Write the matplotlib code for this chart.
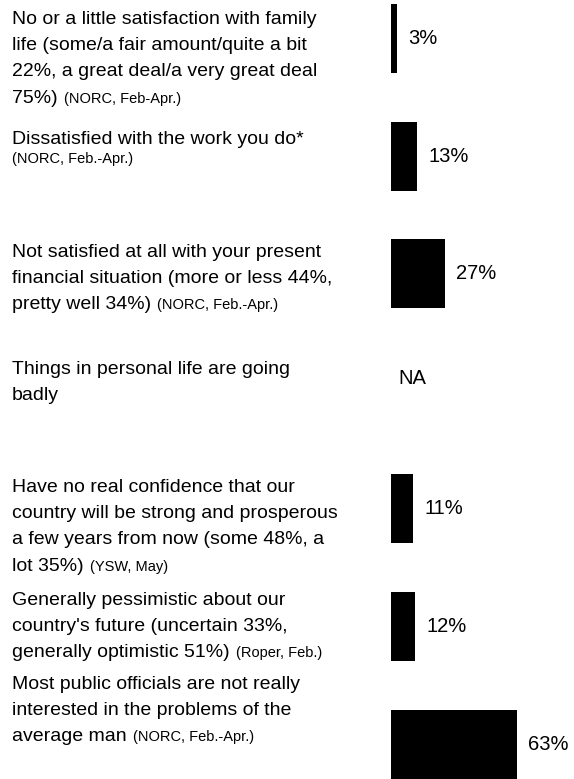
import matplotlib
matplotlib.use("Agg")
import matplotlib.pyplot as plt
import numpy as np

plt.rcParams['font.family'] = ['Liberation Sans', 'DejaVu Sans']

# ---------------------------
# Data
# ---------------------------
questions = [
    ["No or a little satisfaction with family",
     "life (some/a fair amount/quite a bit",
     "22%, a great deal/a very great deal",
     "75%)"],
    ["Dissatisfied with the work you do*",
     ""],
    ["Not satisfied at all with your present",
     "financial situation (more or less 44%,",
     "pretty well 34%)"],
    ["Things in personal life are going",
     "badly"],
    ["Have no real confidence that our",
     "country will be strong and prosperous",
     "a few years from now (some 48%, a",
     "lot 35%)"],
    ["Generally pessimistic about our",
     "country's future (uncertain 33%,",
     "generally optimistic 51%)"],
    ["Most public officials are not really",
     "interested in the problems of the",
     "average man"],
]
sources = ["(NORC, Feb-Apr.)", "(NORC, Feb.-Apr.)", "(NORC, Feb.-Apr.)", "",
           "(YSW, May)", "(Roper, Feb.)", "(NORC, Feb.-Apr.)"]
values = [3, 13, 27, np.nan, 11, 12, 63]

# ---------------------------
# Layout (pixels)
# ---------------------------
W, H = 574, 779
first_baseline = [23.7, 143.7, 256.7, 373.7, 491.7, 604.7, 688.7]
line_pitch = 26.3
small_pitch = 19.0
text_x = 12
big_size = 14
small_size = 10.5
value_size = 14.5

fig = plt.figure(figsize=(W / 100, H / 100), dpi=100)
fig.patch.set_facecolor("white")

# text canvas in pixel coordinates
tax = fig.add_axes([0, 0, 1, 1])
tax.set_xlim(0, W)
tax.set_ylim(H, 0)
tax.axis("off")

renderer = fig.canvas.get_renderer()
for lines, src, y0 in zip(questions, sources, first_baseline):
    y = y0
    for i, line in enumerate(lines):
        last = i == len(lines) - 1
        if line == "":
            y = y - line_pitch + small_pitch
            tax.text(text_x, y, src, fontsize=small_size, va="baseline", ha="left")
            break
        t = tax.text(text_x, y, line, fontsize=big_size, va="baseline", ha="left")
        if last and src:
            bb = t.get_window_extent(renderer)
            tax.text(text_x + bb.width + 6, y, src, fontsize=small_size,
                     va="baseline", ha="left")
        y += line_pitch

# bars: 2 px per percent, starting at x=391
bar_left = 391
ax = fig.add_axes([bar_left / W, 0, 1 - bar_left / W, 1])
ax.patch.set_alpha(0)
ax.set_xlim(0, (W - bar_left) / 2)
slot0, slot_step = 38.5, 117.6
ax.set_ylim((H - slot0) / slot_step, -slot0 / slot_step)
ax.axis("off")

ypos = np.arange(len(values))
vals = np.nan_to_num(np.array(values, dtype=float))
ax.barh(ypos, vals, height=69 / slot_step, color="black", left=0)

for yy, v in zip(ypos, values):
    if np.isnan(v):
        ax.annotate("NA", xy=(0, yy), xytext=(7, 13), textcoords="offset pixels",
                    fontsize=value_size, va="center", ha="left")
    else:
        ax.annotate(f"{v}%", xy=(v, yy), xytext=(11, 0), textcoords="offset pixels",
                    fontsize=value_size, va="center", ha="left")

fig.savefig("out.png", dpi=100, facecolor="white")
